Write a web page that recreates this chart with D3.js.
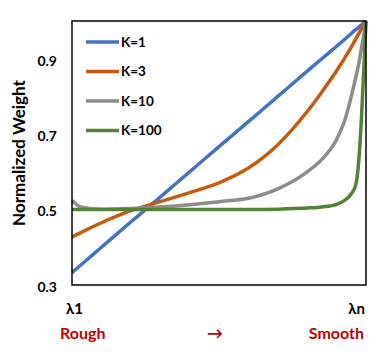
<!DOCTYPE html>
<html>
<head>
<meta charset="utf-8">
<script src="https://cdn.jsdelivr.net/npm/d3@7"></script>
<style>
  body { margin: 0; background: #fff; }
  text { font-family: Lato, "Open Sans", sans-serif; font-weight: bold; }
</style>
</head>
<body>
<div id="chart"></div>
<script>
// position along the spectrum (0 = lambda1, 1 = lambdan)
var positions = [0, 0.03, 0.1, 0.2, 0.3, 0.4, 0.5, 0.6, 0.7, 0.8, 0.85, 0.9, 0.93, 0.95, 0.965, 0.975, 0.985, 0.993, 1];

var seriesNames = ["K=1", "K=3", "K=10", "K=100"];
var seriesColors = ["#4472c4", "#c55a11", "#8c8c8c", "#548235"];

var k1Values   = [0.333, 0.353, 0.400, 0.467, 0.533, 0.600, 0.667, 0.733, 0.800, 0.867, 0.900, 0.933, 0.953, 0.967, 0.977, 0.983, 0.990, 0.995, 1.0];
var k3Values   = [0.427, 0.439, 0.465, 0.497, 0.521, 0.545, 0.571, 0.610, 0.672, 0.760, 0.812, 0.868, 0.905, 0.931, 0.952, 0.966, 0.980, 0.990, 1.0];
var k10Values  = [0.524, 0.507, 0.501, 0.503, 0.507, 0.513, 0.521, 0.530, 0.555, 0.600, 0.633, 0.686, 0.742, 0.800, 0.850, 0.885, 0.930, 0.965, 1.0];
var k100Values = [0.500, 0.500, 0.500, 0.500, 0.500, 0.500, 0.500, 0.500, 0.501, 0.504, 0.507, 0.514, 0.526, 0.542, 0.565, 0.625, 0.750, 0.880, 1.0];

var yTicks = [0.3, 0.5, 0.7, 0.9];
var xTickLabels = ["λ1", "λn"];
var bottomLabels = ["Rough", "→", "Smooth"];

var allValues = [k1Values, k3Values, k10Values, k100Values];

var width = 382, height = 359;
var plotLeft = 72, plotRight = 366, plotTop = 21, plotBottom = 285;

var svg = d3.select("#chart").append("svg")
  .attr("width", width)
  .attr("height", height);

var x = d3.scaleLinear().domain([0, 1]).range([plotLeft, plotRight]);
var y = d3.scaleLinear().domain([0.3, 1.0]).range([plotBottom, plotTop]);

// y axis labels
var yAxis = d3.axisLeft(y)
  .tickValues(yTicks)
  .tickSize(0)
  .tickPadding(15)
  .tickFormat(d3.format(".1f"));

svg.append("g")
  .attr("transform", "translate(" + plotLeft + ",0)")
  .call(yAxis)
  .call(function(g){ g.select(".domain").remove(); })
  .selectAll("text")
  .style("font-size", "14px")
  .style("font-family", "Lato, sans-serif")
  .style("font-weight", "bold")
  .attr("fill", "#000")
  .attr("dy", "0.45em");

svg.append("text")
  .attr("transform", "translate(25," + ((plotTop + plotBottom) / 2) + ") rotate(-90)")
  .attr("text-anchor", "middle")
  .style("font-size", "17px")
  .attr("fill", "#000")
  .text("Normalized Weight");

// lines
var line = d3.line()
  .x(function(d){ return x(d[0]); })
  .y(function(d){ return y(d[1]); })
  .curve(d3.curveMonotoneX);

var plot = svg.append("g");

allValues.forEach(function(vals, i){
  var pts = positions.map(function(p, j){ return [p, vals[j]]; });
  plot.append("path")
    .datum(pts)
    .attr("d", line)
    .attr("fill", "none")
    .attr("stroke", seriesColors[i])
    .attr("stroke-width", 3.5)
    .attr("stroke-linejoin", "round");
});

// frame
svg.append("rect")
  .attr("x", plotLeft)
  .attr("y", plotTop)
  .attr("width", plotRight - plotLeft)
  .attr("height", plotBottom - plotTop)
  .attr("fill", "none")
  .attr("stroke", "#000")
  .attr("stroke-width", 1.5);

// legend
var legend = svg.append("g").attr("transform", "translate(86,42)");
seriesNames.forEach(function(name, i){
  var g = legend.append("g").attr("transform", "translate(0," + (i * 29.5) + ")");
  g.append("line")
    .attr("x1", 0).attr("x2", 33)
    .attr("y1", 0).attr("y2", 0)
    .attr("stroke", seriesColors[i])
    .attr("stroke-width", 3.5);
  g.append("text")
    .attr("x", 35)
    .attr("dy", "0.36em")
    .style("font-size", "13.5px")
    .attr("fill", "#000")
    .text(name);
});

// x labels
svg.append("text")
  .attr("x", x(0) - 6)
  .attr("y", 309)
  .attr("dy", "0.36em")
  .style("font-size", "15px")
  .attr("fill", "#000")
  .text(xTickLabels[0]);

svg.append("text")
  .attr("x", x(1) - 1)
  .attr("y", 309)
  .attr("dy", "0.36em")
  .attr("text-anchor", "end")
  .style("font-size", "15px")
  .attr("fill", "#000")
  .text(xTickLabels[1]);

var bx = [60, 215, 364];
var anchors = ["start", "middle", "end"];
bottomLabels.forEach(function(t, i){
  svg.append("text")
    .attr("x", bx[i])
    .attr("y", 333)
    .attr("dy", "0.36em")
    .attr("text-anchor", anchors[i])
    .style("font-size", "16px")
    .attr("fill", "#c00000")
    .text(t);
});
</script>
</body>
</html>
